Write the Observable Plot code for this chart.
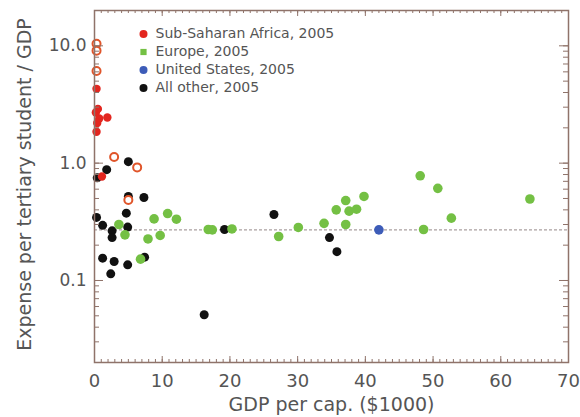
<!DOCTYPE html>
<html><head><meta charset="utf-8">
<script src="https://cdn.jsdelivr.net/npm/d3@7"></script>
<script src="https://cdn.jsdelivr.net/npm/@observablehq/plot@0.6"></script>
<style>html,body{margin:0;padding:0;background:#fff;}</style>
</head><body><div id="chart"></div>
<script>
// Sub-Saharan Africa, 2005 (filled)
const africaGdp = [0.3, 0.2, 0.5, 0.7, 1.9, 0.4, 0.3, 1.1];
const africaExp = [4.3, 2.7, 2.9, 2.4, 2.45, 2.2, 1.85, 0.77];
// Sub-Saharan Africa, open markers
const africaOpenGdp = [0.3, 0.3, 0.3, 2.9, 6.3, 5.0];
const africaOpenExp = [10.4, 9.1, 6.1, 1.13, 0.92, 0.485];
// Europe, 2005
const europeGdp = [3.6, 4.5, 6.8, 7.9, 8.8, 9.7, 10.8, 12.1, 16.8, 17.4, 20.3, 27.2, 30.1, 33.9, 35.7, 37.1, 37.6, 38.7, 39.8, 37.1, 48.1, 50.7, 48.6, 52.7, 64.3];
const europeExp = [0.30, 0.245, 0.152, 0.226, 0.335, 0.242, 0.372, 0.333, 0.272, 0.27, 0.275, 0.237, 0.283, 0.307, 0.40, 0.48, 0.39, 0.405, 0.52, 0.30, 0.78, 0.61, 0.272, 0.34, 0.495];
// United States, 2005
const usGdp = [42.0];
const usExp = [0.27];
// All other, 2005
const otherGdp = [0.4, 1.8, 5.0, 5.0, 7.3, 4.7, 0.3, 1.2, 2.6, 2.6, 4.9, 1.2, 2.9, 2.4, 4.9, 7.4, 16.2, 19.2, 26.5, 34.7, 35.8];
const otherExp = [0.75, 0.88, 1.03, 0.52, 0.51, 0.375, 0.345, 0.295, 0.265, 0.232, 0.285, 0.155, 0.145, 0.114, 0.136, 0.158, 0.051, 0.272, 0.365, 0.232, 0.176];

const legendLabels = ["Sub-Saharan Africa, 2005", "Europe, 2005", "United States, 2005", "All other, 2005"];
const legendColors = ["#e3261f", "#74c044", "#3d5cb8", "#111111"];
const legendSymbols = ["circle", "square", "circle", "circle"];

const xTicks = [0, 10, 20, 30, 40, 50, 60, 70];
const yTicks = [0.1, 1, 10];
const yTickLabels = ["0.1", "1.0", "10.0"];
const xTitle = "GDP per cap. ($1000)";
const yTitle = "Expense per tertiary student / GDP";
const refLevel = usExp[0];

const W = 580, H = 417, mL = 94, mR = 12, mT = 10, mB = 55;
const fw = W - mL - mR, fh = H - mT - mB;
const frameColor = "#8f736a";
const textColor = "#555";

const toPts = (xs, ys) => xs.map((x, i) => ({x, y: ys[i]}));
const africa = toPts(africaGdp, africaExp);
const africaOpen = toPts(africaOpenGdp, africaOpenExp);
const europe = toPts(europeGdp, europeExp);
const us = toPts(usGdp, usExp);
const other = toPts(otherGdp, otherExp);

const xMinor = d3.range(0, 71, 1);
const yMinor = [];
for (let e = -2; e <= 1; e++) for (let k = 1; k <= 9; k++) {
  const v = k * Math.pow(10, e);
  if (v >= 0.02 && v <= 20) yMinor.push(v);
}

const tickMarks = [
  Plot.tickX(xMinor, {x: d => d, insetTop: fh - 3, stroke: frameColor}),
  Plot.tickX(xTicks, {x: d => d, insetTop: fh - 6, stroke: frameColor}),
  Plot.tickX(xMinor, {x: d => d, insetBottom: fh - 3, stroke: frameColor}),
  Plot.tickX(xTicks, {x: d => d, insetBottom: fh - 6, stroke: frameColor}),
  Plot.tickY(yMinor, {y: d => d, insetRight: fw - 5, stroke: frameColor}),
  Plot.tickY(yTicks, {y: d => d, insetRight: fw - 9, stroke: frameColor}),
  Plot.tickY(yMinor, {y: d => d, insetLeft: fw - 5, stroke: frameColor}),
  Plot.tickY(yTicks, {y: d => d, insetLeft: fw - 9, stroke: frameColor})
];

const legendMarks = legendLabels.flatMap((label, i) => [
  Plot.dot([label], {frameAnchor: "top-left", dx: 49, dy: 23.5 + 18 * i, r: legendSymbols[i] === "square" ? 3.5 : 4, symbol: legendSymbols[i], fill: legendColors[i]}),
  Plot.text([label], {frameAnchor: "top-left", dx: 61, dy: 23.5 + 18 * i, text: d => d, textAnchor: "start", lineAnchor: "middle", fontSize: 14, fill: textColor})
]);

const chart = Plot.plot({
  width: W, height: H,
  marginLeft: mL, marginRight: mR, marginTop: mT, marginBottom: mB,
  style: {fontFamily: "DejaVu Sans", background: "#fff"},
  x: {domain: [0, 70], axis: null},
  y: {type: "log", domain: [0.02, 20], axis: null},
  marks: [
    Plot.ruleY([refLevel], {stroke: "#aaa0a0", strokeWidth: 1.2, strokeDasharray: "3,2"}),
    Plot.dot(other, {x: "x", y: "y", r: 4.5, fill: "#111"}),
    Plot.dot(europe, {x: "x", y: "y", r: 4.8, fill: "#74c044"}),
    Plot.dot(africa, {x: "x", y: "y", r: 4.2, fill: "#e3261f"}),
    Plot.dot(africaOpen, {x: "x", y: "y", r: 4, fill: "#fff", stroke: "#e0552a", strokeWidth: 2}),
    Plot.dot(us, {x: "x", y: "y", r: 4.8, fill: "#3d5cb8"}),
    ...tickMarks,
    Plot.frame({stroke: frameColor, strokeWidth: 1.5}),
    Plot.text(xTicks, {x: d => d, frameAnchor: "bottom", dy: 12, lineAnchor: "top", fontSize: 18, fill: textColor}),
    Plot.text(yTicks, {y: d => d, text: d => yTickLabels[yTicks.indexOf(d)], frameAnchor: "left", dx: -8, textAnchor: "end", lineAnchor: "middle", fontSize: 17, fill: textColor}),
    Plot.text([xTitle], {frameAnchor: "bottom", text: d => d, dy: 48, textAnchor: "middle", lineAnchor: "bottom", fontSize: 19, fill: textColor}),
    Plot.text([yTitle], {frameAnchor: "left", text: d => d, dx: -64, dy: -2, rotate: -90, textAnchor: "middle", lineAnchor: "bottom", fontSize: 19, fill: textColor}),
    ...legendMarks
  ]
});
document.getElementById("chart").appendChild(chart);
</script>
</body></html>
